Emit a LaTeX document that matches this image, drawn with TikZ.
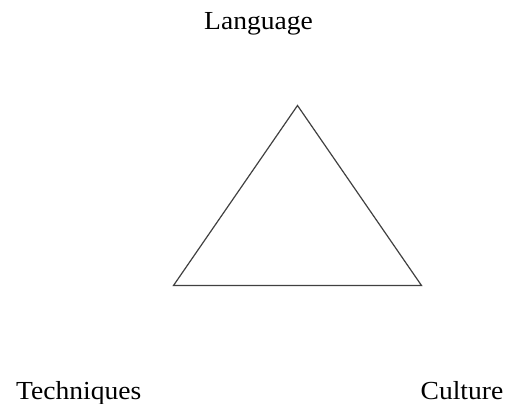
\documentclass[tikz,border=0pt]{standalone}
\usepackage{fontspec}
\setmainfont[FakeStretch=1.06]{Liberation Serif}
\begin{document}
\begin{tikzpicture}[x=1pt,y=-1pt,
  lbl/.style={font=\fontsize{26}{30}\selectfont, inner sep=0pt, anchor=base},
  tri/.style={draw=black!75, line width=1.2pt, line join=miter}]
\useasboundingbox (0,0) rectangle (506,404);
\coordinate (apex) at (297.5,105.5);
\coordinate (bl) at (173.5,285.5);
\coordinate (br) at (421.5,285.5);
\draw[tri] (apex) -- (bl) -- (br) -- cycle;
\node[lbl] (lang) at (258.5,29.5) {Language};
\node[lbl] (tech) at (78.7,399) {Techniques};
\node[lbl] (cult) at (462,399) {Culture};
\end{tikzpicture}
\end{document}
